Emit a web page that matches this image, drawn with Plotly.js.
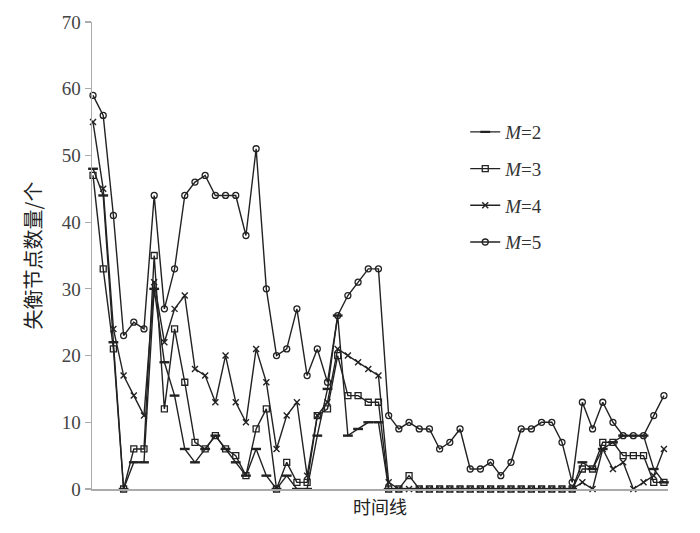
<!DOCTYPE html>
<html>
<head>
<meta charset="utf-8">
<script src="https://cdn.plot.ly/plotly-3.0.1.min.js"></script>
<style>html,body{margin:0;padding:0;background:#fff;}#chart{width:700px;height:533px;}</style>
</head>
<body>
<div id="chart"></div>
<script>
var seriesNames = ["<i>M</i>=2", "<i>M</i>=3", "<i>M</i>=4", "<i>M</i>=5"];
var m2 = [48,44,22,0,4,4,30,19,14,6,4,6,8,6,4,2,6,2,0,2,0,0,8,15,26,8,9,10,10,
          0,0,0,0,0,0,0,0,0,0,0,0,0,0,0,0,0,0,0,4,3,6,7,8,8,8,3,1];
var m3 = [47,33,21,0,6,6,35,12,24,16,7,6,8,6,5,2,9,12,0,4,1,1,11,12,20,14,14,13,13,
          0,0,2,0,0,0,0,0,0,0,0,0,0,0,0,0,0,0,0,3,3,7,7,5,5,5,1,1];
var m4 = [55,45,24,17,14,11,31,22,27,29,18,17,13,20,13,10,21,16,6,11,13,2,11,13,21,20,19,18,17,
          1,0,0,0,0,0,0,0,0,0,0,0,0,0,0,0,0,0,0,1,0,6,3,4,0,1,2,6];
var m5 = [59,56,41,23,25,24,44,27,33,44,46,47,44,44,44,38,51,30,20,21,27,17,21,16,26,29,31,33,33,
          11,9,10,9,9,6,7,9,3,3,4,2,4,9,9,10,10,7,1,13,9,13,10,8,8,8,11,14];
var xIdx = m5.map(function(_, i){ return i; });
var yTicks = [0,10,20,30,40,50,60,70];

var col = "#222";
function tr(y, name, sym, size, lw){
  return {x:xIdx, y:y, name:name, type:"scatter", mode:"lines+markers", cliponaxis:false,
    legendgroup:name,
    line:{color:col, width:1.4},
    marker:{symbol:sym, size:size, color:col, line:{color:col, width:lw}}};
}
var data = [
  tr(m2, seriesNames[0], "line-ew", 7, 2.4),
  tr(m3, seriesNames[1], "square-open", 6, 1.3),
  tr(m4, seriesNames[2], "x-thin", 6, 1.4),
  tr(m5, seriesNames[3], "circle-open", 6, 1.3)
];
var layout = {
  width:700, height:533,
  margin:{l:92, r:32, t:22, b:44},
  paper_bgcolor:"#fff", plot_bgcolor:"#fff",
  showlegend:true,
  legend:{x:0.648, y:0.805, xanchor:"left", yanchor:"top", traceorder:"grouped", tracegroupgap:9,
    font:{family:"Liberation Serif, Times New Roman, serif", size:19, color:"#333"},
    bgcolor:"rgba(0,0,0,0)", itemwidth:30},
  xaxis:{range:[-0.1,56.4], showgrid:false, zeroline:false, showticklabels:false, ticks:"",
    showline:true, linecolor:"#aaa", linewidth:1.5,
    title:{text:"时间线", font:{family:"Noto Sans CJK SC, sans-serif", size:18, color:"#222"}, standoff:12}},
  yaxis:{range:[0,70], tickvals:yTicks, ticktext:yTicks.map(String), showgrid:false, zeroline:false,
    ticks:"outside", ticklen:6, tickcolor:"#aaa", tickwidth:1.2,
    showline:true, linecolor:"#aaa", linewidth:1.5,
    tickfont:{family:"Liberation Serif, Times New Roman, serif", size:19, color:"#444"},
    title:{text:"失衡节点数量/个", font:{family:"Noto Sans CJK SC, sans-serif", size:20, color:"#222"}, standoff:14}}
};
Plotly.newPlot("chart", data, layout, {staticPlot:true, displayModeBar:false});
</script>
</body>
</html>
